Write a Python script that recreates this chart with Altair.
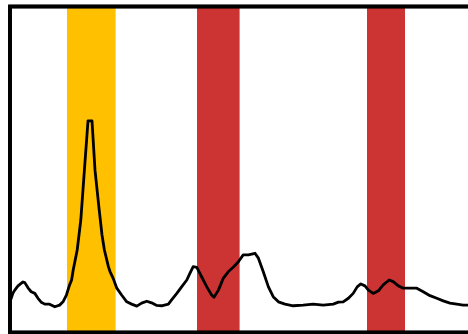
import altair as alt
import pandas as pd

# Signal trace: time (s) and normalised amplitude (%)
time_s = [
    0.0, 0.75, 1.2, 2.0, 3.25, 3.7, 4.5, 5.3, 6.2, 7.0, 7.8, 8.7, 9.9, 11.2, 12.4,
    13.25, 14.1, 14.9, 15.4, 15.8, 16.8, 17.7, 18.6, 19.5, 20.5, 21.25, 22.3, 23.0,
    23.6, 24.6, 25.0, 25.8, 26.7, 27.9, 29.2, 30.4, 31.7, 32.9, 34.2, 35.4, 36.7,
    37.9, 39.6, 40.4, 41.7, 42.9, 44.2, 45.0, 45.8, 46.7, 47.9, 49.2, 50.4, 51.0,
    52.1, 53.3, 54.6, 55.8, 57.1, 58.3, 59.6, 61.25, 62.1, 63.3, 64.6, 65.8, 67.1,
    68.75, 70.8, 73.3, 75.8, 78.3, 80.8, 82.1, 83.3, 84.6, 85.8, 86.8, 87.7, 88.75,
    89.6, 90.8, 92.1, 93.3, 94.8, 95.8, 97.1, 98.3, 100.0, 101.7, 103.3, 105.0,
    106.7, 108.3, 110.0, 111.7, 113.3, 114.5,
]
amplitude = [
    9.4, 12.1, 13.0, 14.3, 15.5, 15.3, 13.7, 12.5, 12.0, 10.5, 9.3, 8.7, 8.7, 7.9, 8.4,
    9.4, 11.5, 14.6, 16.1, 19.2, 25.3, 34.5, 49.8, 64.9, 64.9, 49.8, 37.6, 29.9,
    25.3, 20.2, 18.7, 16.6, 13.6, 11.5, 9.4, 8.7, 8.1, 9.0, 9.6, 9.1, 8.3,
    8.2, 8.7, 10.0, 12.0, 14.0, 16.1, 18.2, 20.2, 20.0, 17.1, 14.0, 11.5, 10.8,
    13.0, 16.6, 18.7, 20.0, 21.7, 23.8, 23.8, 24.3, 22.8, 18.7, 14.0, 11.0, 9.4,
    8.7, 8.2, 8.4, 8.7, 8.4, 8.7, 9.3, 9.4, 10.5, 12.0, 14.0, 14.9, 14.3,
    13.0, 12.0, 12.8, 14.6, 16.1, 15.6, 14.3, 13.6, 13.6, 13.6, 12.5, 11.3,
    10.5, 9.7, 9.0, 8.7, 8.4, 8.4,
]

# Highlighted intervals
band_start = [14.25, 46.75, 89.25]
band_end = [26.4, 57.4, 98.75]
band_kind = ["primary", "secondary", "secondary"]

band_colors = {"primary": "#FFC000", "secondary": "#CC3434"}

X_MAX = 114.5
W, H = 458, 326

signal = pd.DataFrame({"t": time_s, "amp": amplitude})
bands = pd.DataFrame({"start": band_start, "end": band_end, "kind": band_kind})

x_scale = alt.Scale(domain=[0, X_MAX], nice=False, zero=False)
y_scale = alt.Scale(domain=[0, 100], nice=False, zero=True)

band_layer = alt.Chart(bands).mark_rect(opacity=1).encode(
    x=alt.X("start:Q", scale=x_scale, axis=None),
    x2="end:Q",
    y=alt.value(0),
    y2=alt.value(H),
    color=alt.Color(
        "kind:N",
        scale=alt.Scale(domain=list(band_colors), range=list(band_colors.values())),
        legend=None,
    ),
)

line_layer = alt.Chart(signal).mark_line(
    color="black", strokeWidth=2.8, clip=True, strokeJoin="round"
).encode(
    x=alt.X("t:Q", scale=x_scale, axis=None),
    y=alt.Y("amp:Q", scale=y_scale, axis=None),
)

# Frame around the plot; its right side runs past the visible area
frame = alt.Chart(bands).mark_rect(
    fillOpacity=0, stroke="black", strokeWidth=3.5
).encode(
    x=alt.value(0),
    x2=alt.value(W + 60),
    y=alt.value(0),
    y2=alt.value(H),
)

chart = (
    alt.layer(band_layer, line_layer, frame)
    .properties(
        width=W,
        height=H,
        padding={"left": 10, "right": 0, "top": 6.5, "bottom": 1.5},
        autosize=alt.AutoSizeParams(type="none"),
        background="white",
    )
    .configure_view(stroke=None)
)

chart.save("out.html", embed_options={"renderer": "svg", "actions": False})
